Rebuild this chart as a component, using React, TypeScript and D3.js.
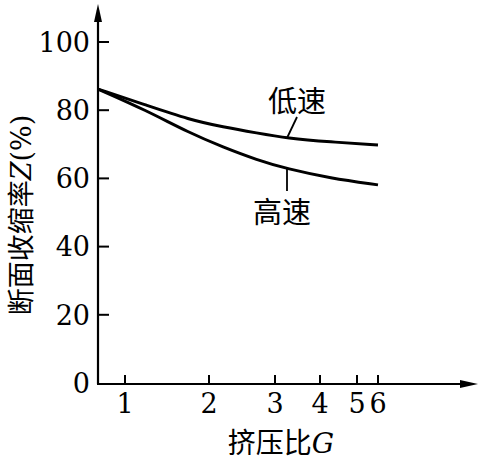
import React from "react";
import * as d3 from "d3";

const xTicks = [1, 2, 3, 4, 5, 6];
const yTicks = [0, 20, 40, 60, 80, 100];
const gValues = [0.68, 1.24, 1.77, 2.21, 2.73, 3.27, 4.27, 6];
const lowSpeed = [86.2, 81.6, 77.2, 75.1, 73.3, 71.8, 70.7, 69.8];
const highSpeed = [86.2, 80.1, 73.3, 69.2, 65.4, 62.8, 60.1, 58.1];
const lowLabel = "低速";
const highLabel = "高速";
const yTitle = "断面收缩率";
const xTitle = "挤压比";

const W = 479;
const H = 460;
const x0 = 98;
const yBase = 384;

export default function App() {
  // hand-drawn (non-uniform) axis: piecewise-linear scale through tick positions
  const x = d3
    .scaleLinear()
    .domain([0.68, 1, 2, 3, 4, 5, 6])
    .range([x0, 125, 209, 275, 320, 357, 378]);
  const y = d3.scaleLinear().domain([0, 100]).range([383, 42]);

  const line = d3
    .line<number>()
    .x((_, i) => x(gValues[i]))
    .y((d) => y(d))
    .curve(d3.curveBasis);

  const serif = '"DejaVu Serif", "Liberation Serif", serif';
  const cjk = '"Noto Sans CJK SC", sans-serif';
  const serifStyle = { fontFamily: serif };
  const cjkStyle = { fontFamily: cjk };

  return (
    <svg
      width={W}
      height={H}
      style={{ position: "absolute", left: 0, top: 0, background: "#fff" }}
    >
      {/* axes */}
      <line x1={x0} y1={yBase} x2={x0} y2={10} stroke="#000" strokeWidth={2.2} />
      <path d={`M${x0},4 L${x0 - 4},22 L${x0 + 4},22 Z`} fill="#000" />
      <line x1={x0 - 1} y1={yBase} x2={470} y2={yBase} stroke="#000" strokeWidth={2.2} />
      <path d={`M478,${yBase} L460,${yBase - 4} L460,${yBase + 4} Z`} fill="#000" />

      {/* y ticks */}
      {yTicks.map((t) => (
        <g key={"y" + t}>
          {t !== 0 && (
            <line x1={x0} x2={x0 + 11} y1={y(t)} y2={y(t)} stroke="#000" strokeWidth={2} />
          )}
          <text
            x={90}
            y={y(t)}
            dy="0.36em"
            textAnchor="end"
            style={serifStyle}
            fontSize={27}
          >
            {t}
          </text>
        </g>
      ))}

      {/* x ticks */}
      {xTicks.map((t) => (
        <g key={"x" + t}>
          <line x1={x(t)} x2={x(t)} y1={yBase} y2={yBase - 9} stroke="#000" strokeWidth={2} />
          <text x={x(t)} y={413} textAnchor="middle" style={serifStyle} fontSize={27}>
            {t}
          </text>
        </g>
      ))}

      {/* curves */}
      <path d={line(lowSpeed) || ""} fill="none" stroke="#000" strokeWidth={3} />
      <path d={line(highSpeed) || ""} fill="none" stroke="#000" strokeWidth={3} />

      {/* leader lines and labels */}
      <line x1={297} y1={117} x2={287} y2={138} stroke="#000" strokeWidth={1.8} />
      <text x={297} y={112} textAnchor="middle" style={cjkStyle} fontSize={29}>
        {lowLabel}
      </text>
      <line x1={287} y1={169} x2={287} y2={191} stroke="#000" strokeWidth={1.8} />
      <text x={282} y={223} textAnchor="middle" style={cjkStyle} fontSize={29}>
        {highLabel}
      </text>

      {/* x title */}
      <text x={281} y={453} textAnchor="middle" fontSize={28}>
        <tspan style={cjkStyle}>{xTitle}</tspan>
        <tspan style={{ ...serifStyle, fontStyle: "italic" }} fontSize={28}>
          G
        </tspan>
      </text>

      {/* y title */}
      <text transform={`translate(31,${215}) rotate(-90)`} textAnchor="middle" fontSize={27}>
        <tspan style={cjkStyle}>{yTitle}</tspan>
        <tspan style={{ ...serifStyle, fontStyle: "italic" }} fontSize={27}>
          Z
        </tspan>
        <tspan style={serifStyle} fontSize={27}>
          (%)
        </tspan>
      </text>
    </svg>
  );
}
